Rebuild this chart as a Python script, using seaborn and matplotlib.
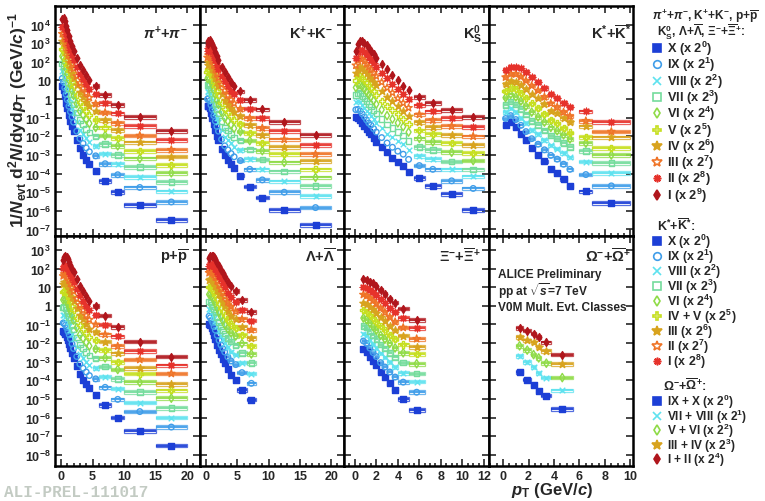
import numpy as np
import matplotlib
matplotlib.use("Agg")
import matplotlib.pyplot as plt
import seaborn as sns
from matplotlib.lines import Line2D
from matplotlib.ticker import FixedLocator, MultipleLocator, FuncFormatter, NullLocator

# ---------------- data: pT bin centres, half bin widths, yields per class (X ... I) ----------------
pi_pt = [0.2, 0.4, 0.6, 0.8, 1.0, 1.25, 1.5, 1.75, 2.0, 2.5, 3.0, 3.5, 4.0, 4.5, 5.5, 7.0, 9.0, 12.5, 17.5]
pi_hw = [0, 0, 0, 0, 0, 0, 0, 0, 0, 0, 0, 0, 0, 0, 0.5, 1.0, 1.0, 2.5, 2.5]
pi_yield = [
    [5.2, 3.2, 1.4, 0.63, 0.32, 0.14, 0.071, 0.035, 0.019, 6.3e-3, 2.4e-3, 1.0e-3, 5.2e-4, 3.2e-4, 1.4e-4, 4.0e-5, 1.0e-5, 2.0e-6, 3.2e-7],
    [13, 8.5, 4.0, 1.8, 0.93, 0.42, 0.21, 0.11, 0.058, 0.019, 7.6e-3, 4.2e-3, 2.4e-3, 1.5e-3, 9.0e-4, 3.4e-4, 8.7e-5, 1.8e-5, 3.0e-6],
    [33, 23, 11, 5.3, 2.7, 1.2, 0.62, 0.32, 0.17, 0.060, 0.023, 0.014, 7.8e-3, 4.8e-3, 3.0e-3, 1.2e-3, 3.2e-4, 6.6e-5, 1.1e-5],
    [82, 62, 32, 15, 7.9, 3.7, 1.9, 0.95, 0.52, 0.19, 0.074, 0.045, 0.025, 0.016, 0.010, 4.0e-3, 1.0e-3, 2.2e-4, 3.6e-5],
    [200, 170, 89, 44, 23, 11, 5.5, 2.9, 1.6, 0.57, 0.23, 0.14, 0.080, 0.050, 0.030, 0.011, 3.1e-3, 6.5e-4, 1.1e-4],
    [510, 460, 250, 130, 68, 32, 16, 8.7, 4.8, 1.7, 0.72, 0.42, 0.23, 0.14, 0.080, 0.030, 8.1e-3, 1.7e-3, 3.0e-4],
    [1300, 1200, 710, 370, 200, 96, 48, 26, 14, 5.4, 2.3, 1.3, 0.72, 0.42, 0.22, 0.078, 0.022, 4.7e-3, 8.1e-4],
    [3200, 3300, 2000, 1100, 590, 290, 140, 78, 44, 17, 7.2, 3.8, 2.1, 1.2, 0.56, 0.19, 0.051, 0.011, 1.9e-3],
    [7900, 8900, 5600, 3100, 1700, 850, 430, 230, 130, 51, 22, 12, 6.6, 3.7, 1.8, 0.60, 0.17, 0.037, 6.5e-3],
    [2.0e4, 2.4e4, 1.6e4, 8900, 5000, 2500, 1300, 710, 400, 160, 71, 35, 20, 11, 5.1, 1.7, 0.50, 0.11, 0.020],
]

k_pt = [0.25, 0.4, 0.6, 0.8, 1.0, 1.25, 1.5, 1.75, 2.0, 2.5, 3.0, 3.5, 4.0, 4.5, 5.5, 7.0, 9.0, 12.5, 17.5]
k_hw = [0, 0, 0, 0, 0, 0, 0, 0, 0, 0, 0, 0, 0, 0, 0.5, 1.0, 1.0, 2.5, 2.5]
k_yield = [
    [0.45, 0.45, 0.32, 0.18, 0.10, 0.045, 0.022, 0.011, 6.3e-3, 2.2e-3, 1.0e-3, 5.2e-4, 3.2e-4, 2.0e-4, 7.9e-5, 2.0e-5, 5.1e-6, 1.1e-6, 1.7e-7],
    [1.0, 1.1, 0.81, 0.48, 0.28, 0.13, 0.066, 0.034, 0.019, 6.9e-3, 3.1e-3, 1.9e-3, 1.2e-3, 8.0e-4, 5.0e-4, 1.7e-4, 4.6e-5, 1.0e-5, 1.5e-6],
    [2.4, 2.7, 2.1, 1.3, 0.76, 0.36, 0.19, 0.10, 0.058, 0.021, 9.8e-3, 6.5e-3, 4.2e-3, 2.8e-3, 1.8e-3, 6.2e-4, 1.7e-4, 3.8e-5, 6.3e-6],
    [5.6, 6.6, 5.3, 3.4, 2.1, 1.0, 0.56, 0.30, 0.17, 0.066, 0.030, 0.021, 0.013, 8.5e-3, 6.0e-3, 2.0e-3, 5.6e-4, 1.3e-4, 2.2e-5],
    [13, 16, 13, 8.9, 5.8, 3.0, 1.7, 0.89, 0.52, 0.20, 0.095, 0.066, 0.042, 0.027, 0.018, 5.9e-3, 1.7e-3, 4.0e-4, 6.2e-5],
    [30, 39, 35, 24, 15, 8.5, 4.8, 2.7, 1.6, 0.63, 0.30, 0.20, 0.12, 0.076, 0.047, 0.015, 4.5e-3, 1.1e-3, 1.7e-4],
    [71, 96, 89, 63, 43, 25, 14, 7.9, 4.8, 1.9, 0.93, 0.58, 0.34, 0.21, 0.12, 0.040, 0.012, 2.6e-3, 4.6e-4],
    [170, 230, 220, 170, 120, 69, 42, 24, 14, 5.9, 2.9, 1.6, 0.95, 0.59, 0.30, 0.095, 0.028, 6.8e-3, 1.1e-3],
    [380, 580, 580, 450, 320, 200, 120, 71, 44, 18, 8.9, 5.0, 2.9, 1.8, 0.93, 0.31, 0.095, 0.019, 3.5e-3],
    [890, 1400, 1500, 1200, 890, 560, 350, 210, 130, 56, 28, 15, 8.5, 5.2, 2.6, 0.89, 0.28, 0.059, 0.012],
]

k0s_pt = [0.1, 0.3, 0.5, 0.7, 0.9, 1.1, 1.3, 1.5, 1.75, 2.0, 2.5, 3.0, 3.5, 4.0, 4.5, 5.0, 6.0, 7.25, 9.0, 11.0]
k0s_hw = [0, 0, 0, 0, 0, 0, 0, 0, 0, 0, 0, 0, 0, 0, 0, 0, 0.5, 0.75, 1.0, 1.0]
k0s_yield = [
    [0.11, 0.10, 0.079, 0.052, 0.035, 0.024, 0.017, 0.013, 8.3e-3, 5.2e-3, 2.8e-3, 1.4e-3, 7.1e-4, 4.0e-4, 2.5e-4, 1.2e-4, 5.6e-5, 2.2e-5, 7.8e-6, 1.1e-6],
    [0.27, 0.28, 0.23, 0.16, 0.11, 0.076, 0.052, 0.040, 0.026, 0.017, 8.6e-3, 4.4e-3, 2.6e-3, 1.6e-3, 1.1e-3, 5.8e-4, 2.7e-4, 1.7e-4, 4.1e-5, 1.6e-5],
    [0.68, 0.76, 0.68, 0.50, 0.35, 0.24, 0.17, 0.13, 0.083, 0.053, 0.027, 0.014, 9.0e-3, 5.5e-3, 3.7e-3, 1.9e-3, 8.5e-4, 5.9e-4, 1.7e-4, 7.1e-5],
    [1.7, 2.1, 2.0, 1.5, 1.1, 0.78, 0.54, 0.40, 0.26, 0.17, 0.085, 0.043, 0.028, 0.017, 0.011, 5.6e-3, 2.6e-3, 1.8e-3, 4.4e-4, 1.7e-4],
    [4.2, 5.8, 5.9, 4.8, 3.5, 2.5, 1.7, 1.3, 0.83, 0.54, 0.27, 0.13, 0.085, 0.053, 0.033, 0.017, 7.8e-3, 5.1e-3, 1.4e-3, 5.0e-4],
    [10, 15, 17, 14, 11, 7.8, 5.5, 4.0, 2.6, 1.7, 0.83, 0.42, 0.26, 0.15, 0.089, 0.048, 0.021, 0.013, 4.5e-3, 1.3e-3],
    [26, 43, 50, 45, 34, 25, 17, 13, 8.3, 5.4, 2.6, 1.3, 0.83, 0.44, 0.24, 0.13, 0.059, 0.032, 0.012, 3.5e-3],
    [65, 120, 150, 140, 110, 78, 55, 40, 26, 17, 8.1, 4.1, 2.2, 1.1, 0.62, 0.34, 0.15, 0.074, 0.035, 0.010],
    [160, 320, 430, 430, 330, 250, 180, 130, 83, 55, 26, 13, 6.8, 3.5, 1.9, 1.0, 0.46, 0.22, 0.095, 0.032],
    [400, 890, 1300, 1300, 1000, 790, 560, 400, 260, 170, 79, 40, 20, 10, 5.2, 3.0, 1.3, 0.63, 0.27, 0.11],
]

kstar_pt = [0.2, 0.6, 1.0, 1.4, 1.8, 2.25, 2.75, 3.25, 3.75, 4.25, 4.75, 5.25, 6.5, 8.5]
kstar_hw = [0.2, 0.2, 0.2, 0.2, 0.2, 0.25, 0.25, 0.25, 0.25, 0.25, 0.25, 0.25, 0.5, 1.5]
kstar_yield = [
    [0.039, 0.056, 0.032, 0.014, 6.3e-3, 2.5e-3, 1.0e-3, 4.5e-4, 1.8e-4, 1.1e-4, 5.0e-5, 2.2e-5, 1.1e-5, 2.6e-6],
    [0.091, 0.13, 0.080, 0.039, 0.018, 7.5e-3, 3.8e-3, 1.9e-3, 9.5e-4, 6.0e-4, 3.2e-4, 1.7e-4, 8.9e-5, 2.2e-5],
    [0.21, 0.32, 0.20, 0.10, 0.052, 0.022, 0.013, 6.5e-3, 3.3e-3, 2.2e-3, 1.3e-3, 7.5e-4, 4.4e-4, 1.1e-4],
    [0.50, 0.74, 0.51, 0.29, 0.15, 0.066, 0.040, 0.021, 0.011, 7.5e-3, 4.5e-3, 2.7e-3, 1.6e-3, 3.7e-4],
    [1.2, 1.8, 1.3, 0.79, 0.42, 0.20, 0.11, 0.058, 0.030, 0.020, 0.012, 7.2e-3, 4.3e-3, 1.0e-3],
    [2.8, 4.2, 3.4, 2.2, 1.2, 0.59, 0.33, 0.16, 0.075, 0.050, 0.028, 0.016, 9.3e-3, 2.4e-3],
    [6.6, 9.8, 8.5, 6.0, 3.5, 1.8, 1.1, 0.54, 0.23, 0.17, 0.095, 0.060, 0.034, 8.9e-3],
    [15, 23, 22, 16, 9.8, 5.3, 2.9, 1.3, 0.59, 0.37, 0.20, 0.12, 0.068, 0.018],
    [36, 55, 55, 45, 28, 16, 8.5, 4.0, 1.8, 1.1, 0.63, 0.40, 0.22, 0.059],
]

p_pt = [0.35, 0.5, 0.7, 0.9, 1.1, 1.3, 1.5, 1.75, 2.0, 2.5, 3.0, 3.5, 4.0, 4.5, 5.5, 7.0, 9.0, 12.5, 17.5]
p_hw = [0, 0, 0, 0, 0, 0, 0, 0, 0, 0, 0, 0, 0, 0, 0.5, 1.0, 1.0, 2.5, 2.5]
p_yield = [
    [0.044, 0.040, 0.032, 0.022, 0.014, 8.9e-3, 5.4e-3, 2.8e-3, 1.6e-3, 5.6e-4, 2.2e-4, 1.1e-4, 6.3e-5, 3.8e-5, 1.7e-5, 4.6e-6, 1.0e-6, 1.9e-7, 3.1e-8],
    [0.12, 0.11, 0.091, 0.066, 0.043, 0.028, 0.017, 9.1e-3, 5.1e-3, 1.9e-3, 7.5e-4, 4.5e-4, 2.8e-4, 1.8e-4, 1.2e-4, 4.2e-5, 9.5e-6, 2.1e-6, 3.1e-7],
    [0.31, 0.31, 0.26, 0.20, 0.13, 0.085, 0.053, 0.029, 0.017, 6.2e-3, 2.5e-3, 1.6e-3, 1.0e-3, 6.5e-4, 4.5e-4, 1.6e-4, 3.6e-5, 6.3e-6, 1.0e-6],
    [0.81, 0.85, 0.78, 0.59, 0.40, 0.26, 0.17, 0.093, 0.054, 0.020, 8.5e-3, 5.5e-3, 3.4e-3, 2.1e-3, 1.5e-3, 5.4e-4, 1.2e-4, 2.4e-5, 3.2e-6],
    [2.1, 2.4, 2.2, 1.8, 1.2, 0.81, 0.52, 0.30, 0.17, 0.068, 0.028, 0.018, 0.011, 7.0e-3, 4.8e-3, 1.6e-3, 3.8e-4, 7.9e-5, 1.1e-5],
    [5.8, 6.6, 6.5, 5.2, 3.7, 2.5, 1.6, 0.95, 0.58, 0.22, 0.095, 0.060, 0.035, 0.021, 0.014, 4.4e-3, 1.0e-3, 2.3e-4, 2.9e-5],
    [15, 19, 19, 16, 11, 7.6, 5.1, 3.0, 1.9, 0.72, 0.32, 0.19, 0.11, 0.060, 0.040, 0.012, 2.8e-3, 4.6e-4, 6.2e-5],
    [40, 51, 55, 47, 34, 23, 16, 9.8, 6.0, 2.4, 1.1, 0.58, 0.31, 0.18, 0.10, 0.029, 6.8e-3, 1.3e-3, 2.3e-4],
    [110, 140, 160, 140, 100, 72, 50, 31, 19, 7.9, 3.6, 1.9, 1.0, 0.58, 0.33, 0.098, 0.023, 3.9e-3, 6.3e-4],
    [280, 400, 460, 420, 320, 220, 160, 100, 63, 26, 12, 6.0, 3.2, 1.8, 1.0, 0.30, 0.071, 0.012, 1.9e-3],
]

lam_pt = [0.5, 0.7, 0.9, 1.1, 1.3, 1.5, 1.8, 2.1, 2.4, 2.7, 3.0, 3.5, 4.0, 4.75, 5.75, 7.25]
lam_hw = [0, 0, 0, 0, 0, 0, 0, 0, 0, 0, 0, 0.25, 0.25, 0.5, 0.75, 0.75]
lam_yield = [
    [0.11, 0.089, 0.063, 0.042, 0.026, 0.017, 8.3e-3, 4.5e-3, 2.5e-3, 1.4e-3, 8.3e-4, 4.0e-4, 2.0e-4, 1.0e-4, 3.0e-5, 9.3e-6],
    [0.28, 0.23, 0.17, 0.12, 0.076, 0.050, 0.026, 0.014, 7.9e-3, 5.0e-3, 3.3e-3, 1.8e-3, 1.1e-3, 7.0e-4, 2.6e-4, 6.9e-5],
    [0.68, 0.59, 0.46, 0.33, 0.22, 0.15, 0.079, 0.044, 0.025, 0.016, 0.010, 5.8e-3, 3.5e-3, 2.4e-3, 9.0e-4, 2.3e-4],
    [1.7, 1.5, 1.2, 0.93, 0.65, 0.45, 0.25, 0.14, 0.081, 0.052, 0.033, 0.019, 0.012, 7.5e-3, 3.0e-3, 8.5e-4],
    [4.1, 3.9, 3.3, 2.6, 1.9, 1.3, 0.76, 0.44, 0.26, 0.16, 0.10, 0.058, 0.036, 0.024, 9.5e-3, 2.6e-3],
    [10, 10, 9.1, 7.4, 5.5, 4.0, 2.3, 1.3, 0.81, 0.50, 0.31, 0.17, 0.10, 0.066, 0.027, 7.1e-3],
    [24, 26, 25, 21, 16, 12, 7.1, 4.3, 2.6, 1.6, 0.95, 0.52, 0.30, 0.19, 0.075, 0.019],
    [59, 68, 66, 59, 47, 35, 22, 13, 8.3, 5.2, 3.1, 1.6, 0.90, 0.50, 0.19, 0.052],
    [140, 170, 180, 170, 130, 100, 68, 42, 26, 16, 9.8, 5.2, 2.9, 1.7, 0.62, 0.16],
    [350, 450, 480, 470, 400, 320, 210, 130, 83, 56, 35, 19, 11, 6.3, 2.0, 0.45],
]

xi_pt = [0.8, 1.1, 1.4, 1.7, 2.0, 2.4, 2.8, 3.25, 3.75, 4.5, 5.75]
xi_hw = [0.15, 0.15, 0.15, 0.15, 0.15, 0.2, 0.2, 0.25, 0.25, 0.5, 0.75]
xi_yield = [
    [4.8e-3, 3.5e-3, 1.9e-3, 1.1e-3, 6.3e-4, 2.9e-4, 1.5e-4, 6.9e-5, 3.2e-5, 1.0e-5, 2.6e-6],
    [0.013, 9.5e-3, 5.4e-3, 3.1e-3, 1.9e-3, 8.9e-4, 5.2e-4, 2.8e-4, 1.5e-4, 8.0e-5, 2.3e-5],
    [0.032, 0.026, 0.015, 9.1e-3, 5.5e-3, 2.8e-3, 1.7e-3, 9.5e-4, 5.2e-4, 2.5e-4, 8.5e-5],
    [0.085, 0.068, 0.042, 0.026, 0.017, 8.3e-3, 5.2e-3, 3.0e-3, 1.7e-3, 9.0e-4, 2.3e-4],
    [0.22, 0.18, 0.12, 0.076, 0.049, 0.026, 0.016, 9.5e-3, 5.5e-3, 3.0e-3, 7.8e-4],
    [0.58, 0.49, 0.32, 0.22, 0.14, 0.079, 0.048, 0.028, 0.016, 8.5e-3, 2.6e-3],
    [1.5, 1.3, 0.91, 0.65, 0.43, 0.25, 0.15, 0.085, 0.048, 0.025, 6.3e-3],
    [4.0, 3.5, 2.6, 1.9, 1.3, 0.76, 0.45, 0.25, 0.14, 0.068, 0.017],
    [10, 9.3, 7.1, 5.5, 3.8, 2.3, 1.4, 0.79, 0.45, 0.23, 0.065],
    [27, 25, 20, 16, 11, 7.1, 4.2, 2.4, 1.5, 0.71, 0.18],
]

omega_pt = [1.3, 1.9, 2.4, 2.8, 3.4, 4.65]
omega_hw = [0.3, 0.3, 0.2, 0.2, 0.4, 0.85]
omega_yield = [
    [2.9e-4, 1.1e-4, 5.8e-5, 2.6e-5, 1.5e-5, 2.8e-6],
    [2.1e-3, 9.5e-4, 5.2e-4, 2.5e-4, 1.4e-4, 2.9e-5],
    [7.1e-3, 4.2e-3, 2.4e-3, 1.6e-3, 8.3e-4, 1.4e-4],
    [0.021, 0.014, 0.011, 6.3e-3, 3.9e-3, 7.8e-4],
    [0.065, 0.047, 0.032, 0.021, 0.011, 2.4e-3],
]

legend_main = ["X", "IX", "VIII", "VII", "VI", "V", "IV", "III", "II", "I"]
legend_kstar = ["X", "IX", "VIII", "VII", "VI", "IV + V", "III", "II", "I"]
legend_omega = ["IX + X", "VII + VIII", "V + VI", "III + IV", "I + II"]

# ---------------- styles ----------------
class_colors = ["#1c3fd6", "#3f9de9", "#5ee2ef", "#74dc9c", "#8fdb47", "#c6df1f",
                "#d8a31e", "#ef7427", "#e6322b", "#b0161c"]
class_markers = ["s", "o", "x", "s", "d", "P", "*", "*", (8, 2, 0), "d"]
class_open = [False, True, False, True, True, True, False, True, False, False]
class_size = [14, 16, 16, 16, 18, 20, 30, 30, 22, 16]

sns.set_style("ticks")
plt.rcParams["font.family"] = ["Liberation Sans", "DejaVu Sans"]
plt.rcParams.update({
    "font.weight": "bold",
    "mathtext.fontset": "custom",
    "mathtext.rm": "Liberation Sans:bold",
    "mathtext.it": "Liberation Sans:italic:bold",
    "mathtext.bf": "Liberation Sans:bold",
    "mathtext.sf": "Liberation Sans:bold",
    "axes.linewidth": 1.8,
    "axes.edgecolor": "black",
})

W, H = 765, 502
fig = plt.figure(figsize=(W / 100, H / 100), dpi=100)
col_px = [55, 200, 344, 489, 633]
row_px = [7, 237, 467]

xlims = [(-0.95, 22.05), (-0.95, 22.05), (-1.0, 12.47), (-1.1, 10.2)]
xmajor = [[0, 5, 10, 15, 20], [0, 5, 10, 15, 20], [0, 2, 4, 6, 8, 10, 12], [0, 2, 4, 6, 8, 10]]
xminor = [1.0, 1.0, 0.5, 0.5]
ylims = [(10 ** -7.35, 1e5), (10 ** -8.6, 10 ** 3.75)]
ydecades = [range(-7, 5), range(-8, 4)]


def ylab(v, pos):
    e = int(round(np.log10(v)))
    if e == 0:
        return "1"
    if e == 1:
        return "10"
    return "10$^{%d}$" % e


def draw_panel(r, c, pt, hw, yields, styles, label, lab_xy):
    x0, x1 = col_px[c], col_px[c + 1]
    y0, y1 = row_px[r], row_px[r + 1]
    ax = fig.add_axes([x0 / W, 1 - y1 / H, (x1 - x0) / W, (y1 - y0) / H])
    ax.set_yscale("log")
    x = np.array(pt, dtype=float)
    w = np.array(hw, dtype=float)
    wide = w > 0
    for vals, k in zip(yields, styles):
        col = class_colors[k]
        y = np.array(vals, dtype=float)
        if wide.any():
            ax.bar(x[wide], y[wide] * 0.45, bottom=y[wide] * 0.8, width=2 * w[wide],
                   fill=False, edgecolor=col, linewidth=0.9, alpha=0.75, zorder=2)
            ax.errorbar(x[wide], y[wide], xerr=w[wide], fmt="none", ecolor=col,
                        elinewidth=1.3, capsize=0, zorder=3)
        kw = dict(facecolor="none", edgecolor=col) if class_open[k] else dict(edgecolor=col)
        sns.scatterplot(x=x, y=y, ax=ax, marker=class_markers[k], s=class_size[k],
                        color=col, linewidth=1.0, legend=False, zorder=4, **kw)
    ax.set_xlim(*xlims[c])
    ax.set_ylim(*ylims[r])
    ax.xaxis.set_major_locator(FixedLocator(xmajor[c]))
    ax.xaxis.set_minor_locator(MultipleLocator(xminor[c]))
    ax.yaxis.set_major_locator(FixedLocator([10.0 ** e for e in ydecades[r]]))
    ax.yaxis.set_minor_locator(NullLocator())
    ax.tick_params(which="both", direction="in", top=True, right=True, width=1.2,
                   labelsize=9, pad=3)
    ax.tick_params(which="major", length=5)
    ax.tick_params(which="minor", length=2.5)
    if c == 0:
        ax.yaxis.set_major_formatter(FuncFormatter(ylab))
    else:
        ax.set_yticklabels([])
    if r == 0:
        ax.set_xticklabels([])
    ax.set_xlabel("")
    ax.set_ylabel("")
    ax.text(lab_xy[0], lab_xy[1], label, transform=ax.transAxes, ha="right", va="center",
            fontsize=10.5, fontweight="bold")
    return ax


ten = list(range(10))
draw_panel(0, 0, pi_pt, pi_hw, pi_yield, ten, r"$\pi^{+}$+$\pi^{-}$", (0.915, 0.885))
draw_panel(0, 1, k_pt, k_hw, k_yield, ten, r"K$^{+}$+K$^{-}$", (0.92, 0.885))
draw_panel(0, 2, k0s_pt, k0s_hw, k0s_yield, ten, r"K$^{0}_{\mathrm{S}}$", (0.955, 0.88))
draw_panel(0, 3, kstar_pt, kstar_hw, kstar_yield, list(range(9)),
           r"K$^{*}$+$\overline{\mathrm{K}}^{*}$", (0.99, 0.885))
draw_panel(1, 0, p_pt, p_hw, p_yield, ten, r"p+$\overline{\mathrm{p}}$", (0.92, 0.91))
draw_panel(1, 1, lam_pt, lam_hw, lam_yield, ten, r"$\Lambda$+$\overline{\Lambda}$", (0.94, 0.915))
draw_panel(1, 2, xi_pt, xi_hw, xi_yield, ten, r"$\Xi^{-}$+$\overline{\Xi}^{+}$", (0.94, 0.915))
ax_om = draw_panel(1, 3, omega_pt, omega_hw, omega_yield, [0, 2, 4, 6, 9],
                   r"$\Omega^{-}$+$\overline{\Omega}^{+}$", (0.99, 0.915))

for i, line in enumerate(["ALICE Preliminary", r"pp at $\sqrt{s}$=7 TeV", "V0M Mult. Evt. Classes"]):
    ax_om.text(0.06, 0.835 - 0.072 * i, line, transform=ax_om.transAxes, ha="left",
               va="center", fontsize=8.6, fontweight="bold")

# axis titles
fig.text(18 / W, 1 - 120 / H, r"1/$N_{\mathrm{evt}}$ d$^{2}$$N$/dyd$p_{\mathrm{T}}$ (GeV/$c$)$^{-1}$",
         rotation=90, ha="center", va="center", fontsize=12.5, fontweight="bold")
fig.text(552 / W, 1 - 491 / H, r"$p_{\mathrm{T}}$ (GeV/$c$)", ha="center", va="center",
         fontsize=12, fontweight="bold")
fig.text(4 / W, 1 - 493 / H, "ALI-PREL-111017", ha="left", va="center", fontsize=11.5,
         family="Liberation Mono", fontweight="bold", color="#c3cbc3")


# legends
def legend_block(names, powers, styles, y0, dy, size, x_mark=657, x_text=667):
    for i, (name, pw, k) in enumerate(zip(names, powers, styles)):
        yy = 1 - (y0 + i * dy) / H
        col = class_colors[k]
        fig.add_artist(Line2D([x_mark / W], [yy], transform=fig.transFigure, linestyle="none",
                              marker=class_markers[k], markersize=7 if class_markers[k] == "*" else 5.5,
                              markeredgecolor=col, markeredgewidth=1.2,
                              markerfacecolor="none" if class_open[k] else col))
        fig.text(x_text / W, yy, "%s (x 2$^{%d}$)" % (name, pw), ha="left", va="center",
                 fontsize=size, fontweight="bold")


fig.text(652 / W, 1 - 16 / H, r"$\pi^{+}$+$\pi^{-}$, K$^{+}$+K$^{-}$, p+$\overline{\mathrm{p}}$",
         ha="left", va="center", fontsize=8.6, fontweight="bold")
fig.text(657 / W, 1 - 32 / H, r"K$^{0}_{\mathrm{S}}$, $\Lambda$+$\overline{\Lambda}$, $\Xi^{-}$+$\overline{\Xi}^{+}$:",
         ha="left", va="center", fontsize=8.6, fontweight="bold")
legend_block(legend_main, list(range(10)), ten, 49, 16.3, 9.2)

fig.text(657 / W, 1 - 226 / H, r"K$^{*}$+$\overline{\mathrm{K}}^{*}$:", ha="left", va="center",
         fontsize=9.0, fontweight="bold")
legend_block(legend_kstar, list(range(9)), list(range(9)), 242, 15.0, 8.9)

fig.text(663 / W, 1 - 386 / H, r"$\Omega^{-}$+$\overline{\Omega}^{+}$:", ha="left", va="center",
         fontsize=9.0, fontweight="bold")
legend_block(legend_omega, list(range(5)), [0, 2, 4, 6, 9], 402, 14.6, 8.6)

fig.savefig("out.png", dpi=100, facecolor="white")
